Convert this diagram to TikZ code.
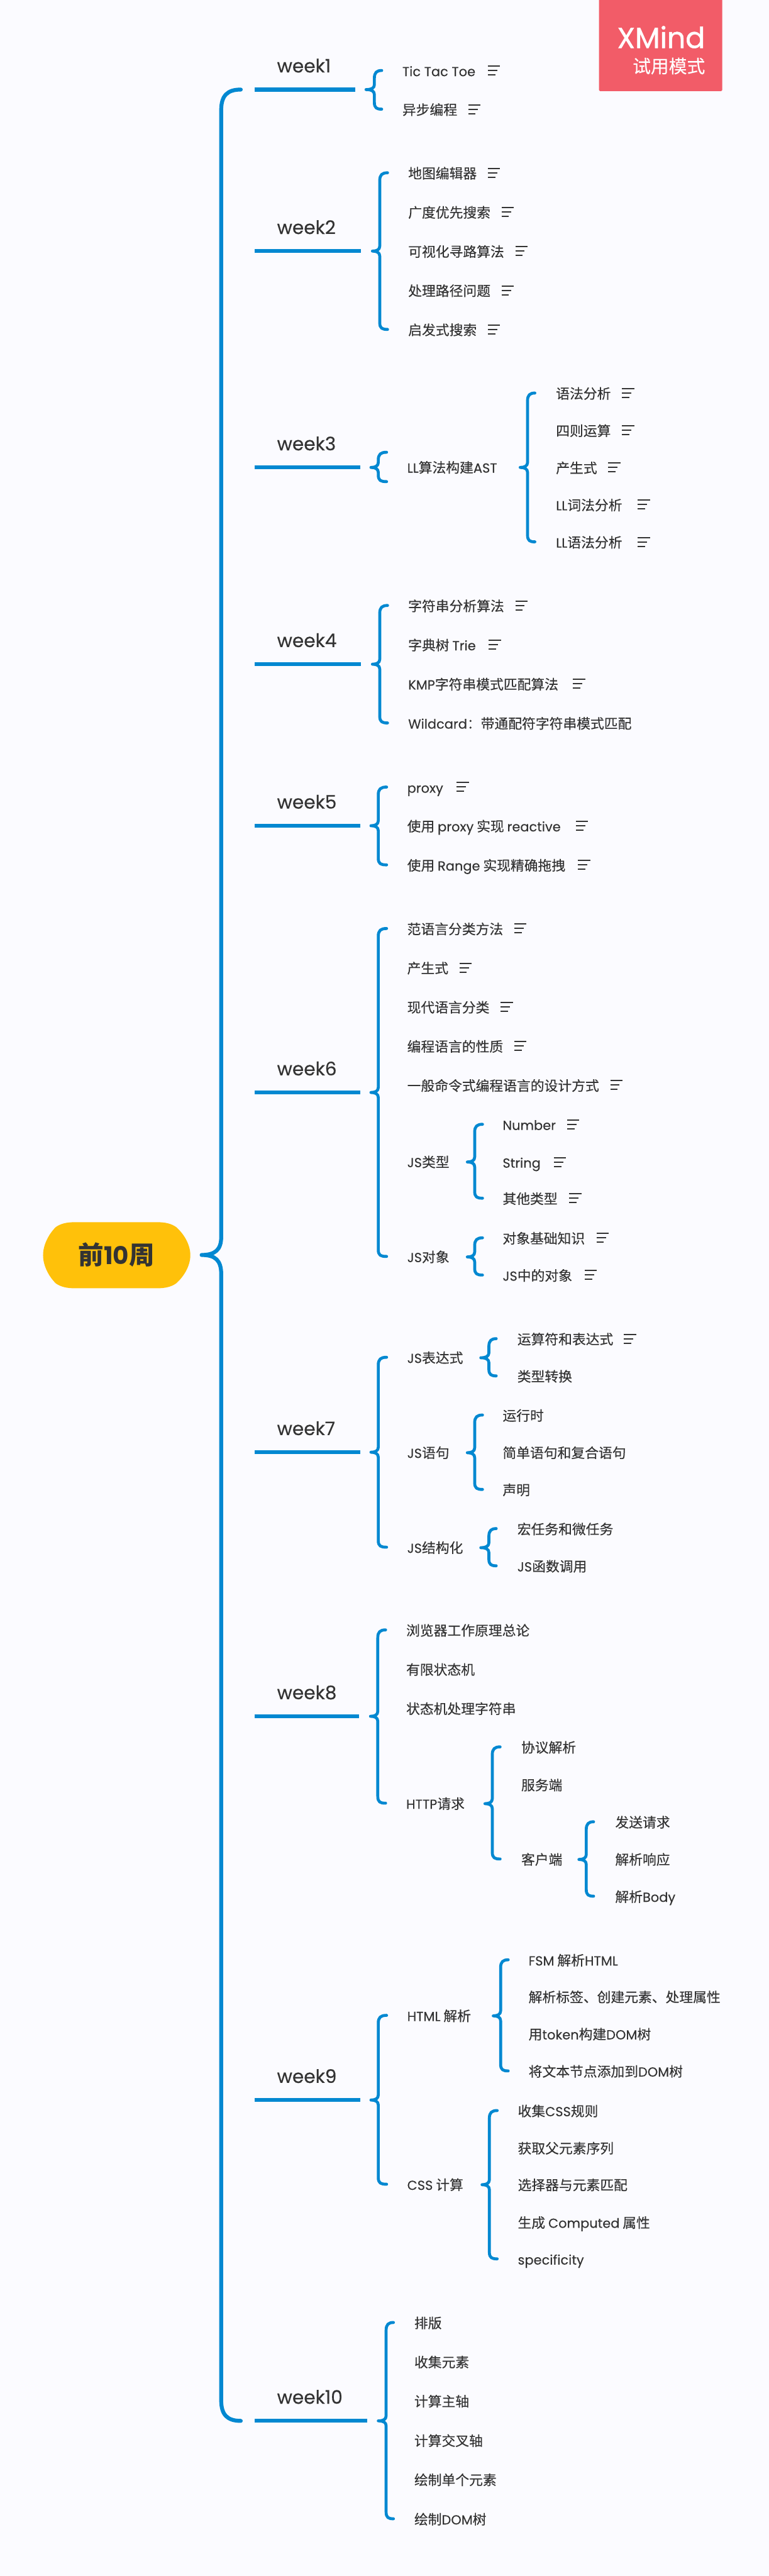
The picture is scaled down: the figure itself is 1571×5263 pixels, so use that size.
\documentclass[tikz,border=0pt]{standalone}
\usepackage{fontspec}
\usetikzlibrary{calc}
\setmainfont[UprightFeatures={FakeBold=0.2}]{Noto Sans CJK SC}
\newfontfamily\latf[Scale=0.96,UprightFeatures={FakeBold=0.15}]{Poppins}
\newfontfamily\latm[UprightFeatures={FakeBold=0.35}]{Poppins}
\newfontfamily\latb[UprightFeatures={FakeBold=1.1}]{Poppins}
\newcommand\La[1]{{\latf #1}}
\definecolor{linec}{HTML}{0288D1}
\definecolor{textc}{HTML}{333333}
\definecolor{bgc}{HTML}{FBFBFF}
\definecolor{rootc}{HTML}{FFC10A}
\definecolor{badgec}{HTML}{F25C68}
\tikzset{
  itemtxt/.style={anchor=west,inner sep=0pt,text=textc,font=\fontsize{28}{28}\selectfont,text height=24.6pt,text depth=3.4pt},
  wklabel/.style={anchor=base west,inner sep=0pt,text=textc,font=\fontsize{38}{38}\selectfont\latm},
  wkline/.style={draw=linec,line width=8pt},
  brline/.style={draw=linec,line width=6pt,line cap=round,line join=round},
  mainline/.style={draw=linec,line width=8pt,line cap=round,line join=round},
  noteline/.style={draw=textc,line width=2.6pt},
}
% name, x, y, text
\newcommand\itm[4]{\node[itemtxt] (#1) at (#2,#3) {#4};}
% text node, icon x
\newcommand\nt[2]{%
  \draw[noteline] (#2,0 |- #1.west) ++(0,-10) -- ++(25,0);
  \draw[noteline] (#2,0 |- #1.west) ++(0,-1) -- ++(19,0);
  \draw[noteline] (#2,0 |- #1.west) ++(0,8) -- ++(15,0);}
% number, line y, line end x
\newcommand\wk[3]{%
  \coordinate (w#1a) at (521,#2);
  \coordinate (w#1b) at (#3,#2);
  \node[wklabel] (wk#1) at (566,#2-35) {week#1};
  \draw[wkline] (w#1a) -- (w#1b);}
% parent point, first child point, last child point, tip x, vertical x, end x
\newcommand\brc[6]{%
  \draw[brline] let \p1=(#1),\p2=(#2),\p3=(#3) in
    (#6pt,{\y2+1pt}) .. controls (#5pt+5pt,{\y2+1pt}) and (#5pt,{\y2-3pt}) .. (#5pt,{\y2-15pt})
    -- (#5pt,{\y1+10pt}) .. controls (#5pt,{\y1+3pt}) and (#5pt-6pt,\y1) .. (#4pt,\y1)
    .. controls (#5pt-6pt,\y1) and (#5pt,{\y1-3pt}) .. (#5pt,{\y1-10pt})
    -- (#5pt,{\y3+15pt}) .. controls (#5pt,{\y3+3pt}) and (#5pt+5pt,{\y3+1pt}) .. (#6pt,{\y3+1pt});}
\begin{document}
\begin{tikzpicture}[x=1pt,y=-1pt]
\useasboundingbox (0,0) rectangle (1571,5263);
\fill[bgc] (0,0) rectangle (1571,5263);
% badge
\fill[badgec,rounded corners=2pt] (1224,-6) rectangle (1476,186);
\node[anchor=base east,inner sep=0pt,text=white,font=\fontsize{59}{59}\selectfont\latb] (xm) at (1441,98) {XMind};
\node[anchor=base east,inner sep=0pt,text=white,font=\fontsize{37}{37}\selectfont] (xm2) at (1441,149) {试用模式};
% root
\fill[rootc] (153,2497) -- (321,2497) .. controls (338,2497) and (350,2500) .. (360,2507)
  .. controls (378,2523) and (389,2545) .. (389,2564.5) .. controls (389,2584) and (378,2606) .. (360,2622)
  .. controls (350,2629) and (338,2632) .. (321,2632) -- (153,2632)
  .. controls (136,2632) and (124,2629) .. (114,2622) .. controls (98,2606) and (88,2584) .. (88,2564.5)
  .. controls (88,2545) and (98,2523) .. (114,2507) .. controls (124,2500) and (136,2497) .. (153,2497) -- cycle;
\node[inner sep=0pt,text=textc,font=\fontsize{52}{52}\selectfont\bfseries] (root) at (238,2564) {前\La{\bfseries 10}周};
% weeks
\wk{1}{183}{726}
\wk{2}{513}{738}
\wk{3}{955}{736}
\wk{4}{1357}{738}
\wk{5}{1687}{736}
\wk{6}{2232}{736}
\wk{7}{2967}{736}
\wk{8}{3506.5}{734}
\wk{9}{4290.5}{736}
\wk{10}{4946}{750}
% main brace
\coordinate (mtip) at (412,2564);
\draw[mainline] (492,0 |- w1a) .. controls (465,183) and (452,195) .. (452,225) -- (452,2527)
  .. controls (452,2553) and (440,2564) .. (mtip) .. controls (440,2564) and (452,2575) .. (452,2603)
  -- (452,4904) .. controls (452,4934) and (465,4946) .. (492,0 |- w10a);
% week1
\itm{a1}{822}{145}{\La{Tic Tac Toe}}\nt{a1}{997}
\itm{a2}{822}{224}{异步编程}\nt{a2}{957}
\brc{w1b}{a1.west}{a2.west}{748}{765}{780}
% week2
\itm{b1}{834}{354}{地图编辑器}\nt{b1}{997}
\itm{b2}{834}{434}{广度优先搜索}\nt{b2}{1025}
\itm{b3}{834}{514}{可视化寻路算法}\nt{b3}{1053}
\itm{b4}{834}{594}{处理路径问题}\nt{b4}{1025}
\itm{b5}{834}{674}{启发式搜索}\nt{b5}{997}
\brc{w2b}{b1.west}{b5.west}{761}{776}{792}
% week3
\itm{c0}{832}{955}{\La{LL}算法构建\La{AST}}
\coordinate (c0t) at (790,925);
\coordinate (c0b) at (790,985);
\brc{w3b}{c0t}{c0b}{758}{773}{790}
\itm{c1}{1136}{804}{语法分析}\nt{c1}{1271}
\itm{c2}{1136}{880}{四则运算}\nt{c2}{1271}
\itm{c3}{1136}{956}{产生式}\nt{c3}{1243}
\itm{c4}{1136}{1032}{\La{LL}词法分析}\nt{c4}{1303}
\itm{c5}{1136}{1108}{\La{LL}语法分析}\nt{c5}{1303}
\brc{c0.west}{c1.west}{c5.west}{1063}{1078}{1093}
% week4
\itm{d1}{834}{1238}{字符串分析算法}\nt{d1}{1053}
\itm{d2}{834}{1318}{字典树 \La{Trie}}\nt{d2}{999}
\itm{d3}{834}{1398}{\La{KMP}字符串模式匹配算法}\nt{d3}{1171}
\itm{d4}{834}{1478}{\La{Wildcard}：带通配符字符串模式匹配}
\brc{w4b}{d1.west}{d4.west}{761}{776}{792}
% week5
\itm{e1}{832}{1609}{\La{proxy}}\nt{e1}{933}
\itm{e2}{832}{1688}{使用 \La{proxy} 实现 \La{reactive}}\nt{e2}{1177}
\itm{e3}{832}{1768}{使用 \La{Range} 实现精确拖拽}\nt{e3}{1181}
\brc{w5b}{e1.west}{e3.west}{758}{773}{790}
% week6
\itm{f1}{832}{1898}{范语言分类方法}\nt{f1}{1051}
\itm{f2}{832}{1978}{产生式}\nt{f2}{939}
\itm{f3}{832}{2058}{现代语言分类}\nt{f3}{1023}
\itm{f4}{832}{2138}{编程语言的性质}\nt{f4}{1051}
\itm{f5}{832}{2218}{一般命令式编程语言的设计方式}\nt{f5}{1247}
\itm{f6}{832}{2374}{\La{JS}类型}
\itm{f7}{832}{2568}{\La{JS}对象}
\brc{w6b}{f1.west}{f7.west}{758}{773}{790}
\itm{g1}{1027}{2298}{\La{Number}}\nt{g1}{1159}
\itm{g2}{1027}{2375}{\La{String}}\nt{g2}{1132}
\itm{g3}{1027}{2449}{其他类型}\nt{g3}{1163}
\brc{f6.west}{g1.west}{g3.west}{955}{970}{986}
\itm{g4}{1027}{2530}{对象基础知识}\nt{g4}{1219}
\itm{g5}{1027}{2606}{\La{JS}中的对象}\nt{g5}{1195}
\brc{f7.west}{g4.west}{g5.west}{955}{970}{986}
% week7
\itm{h1}{832}{2774}{\La{JS}表达式}
\itm{h2}{832}{2968}{\La{JS}语句}
\itm{h3}{832}{3162}{\La{JS}结构化}
\brc{w7b}{h1.west}{h3.west}{758}{773}{790}
\itm{i1}{1057}{2736}{运算符和表达式}\nt{i1}{1275}
\itm{i2}{1057}{2812}{类型转换}
\brc{h1.west}{i1.west}{i2.west}{982.5}{999}{1014}
\itm{i3}{1027}{2892}{运行时}
\itm{i4}{1027}{2968}{简单语句和复合语句}
\itm{i5}{1027}{3044}{声明}
\brc{h2.west}{i3.west}{i5.west}{955}{970}{986}
\itm{i6}{1057}{3124}{宏任务和微任务}
\itm{i7}{1057}{3200}{\La{JS}函数调用}
\brc{h3.west}{i6.west}{i7.west}{982.5}{999}{1014}
% week8
\itm{j1}{830}{3331}{浏览器工作原理总论}
\itm{j2}{830}{3411}{有限状态机}
\itm{j3}{830}{3491}{状态机处理字符串}
\itm{j4}{830}{3685}{\La{HTTP}请求}
\brc{w8b}{j1.west}{j4.west}{757}{772}{788}
\itm{k1}{1065}{3570}{协议解析}
\itm{k2}{1065}{3647}{服务端}
\itm{k3}{1065}{3799}{客户端}
\brc{j4.west}{k1.west}{k3.west}{991}{1006}{1022}
\itm{l1}{1257}{3723}{发送请求}
\itm{l2}{1257}{3799}{解析响应}
\itm{l3}{1257}{3875}{解析\La{Body}}
\brc{k3.west}{l1.west}{l3.west}{1183}{1198}{1213}
% week9
\itm{m1}{832}{4118.5}{\La{HTML} 解析}
\itm{m2}{832}{4463.5}{\La{CSS} 计算}
\brc{w9b}{m1.west}{m2.west}{758}{773}{790}
\itm{n1}{1080}{4005}{\La{FSM} 解析\La{HTML}}
\itm{n2}{1080}{4080}{解析标签、创建元素、处理属性}
\itm{n3}{1080}{4156}{用\La{token}构建\La{DOM}树}
\itm{n4}{1080}{4232}{将文本节点添加到\La{DOM}树}
\brc{m1.west}{n1.west}{n4.west}{1008}{1023}{1038.5}
\itm{o1}{1058}{4313}{收集\La{CSS}规则}
\itm{o2}{1058}{4389}{获取父元素序列}
\itm{o3}{1058}{4464}{选择器与元素匹配}
\itm{o4}{1058}{4541}{生成 \La{Computed} 属性}
\itm{o5}{1058}{4616}{\La{specificity}}
\brc{m2.west}{o1.west}{o5.west}{985}{1000}{1016}
% week10
\itm{p1}{846.5}{4746}{排版}
\itm{p2}{846.5}{4826}{收集元素}
\itm{p3}{846.5}{4906}{计算主轴}
\itm{p4}{846.5}{4986.5}{计算交叉轴}
\itm{p5}{846.5}{5066.5}{绘制单个元素}
\itm{p6}{846.5}{5147}{绘制\La{DOM}树}
\brc{w10b}{p1.west}{p6.west}{773}{789}{804}
\end{tikzpicture}
\end{document}
